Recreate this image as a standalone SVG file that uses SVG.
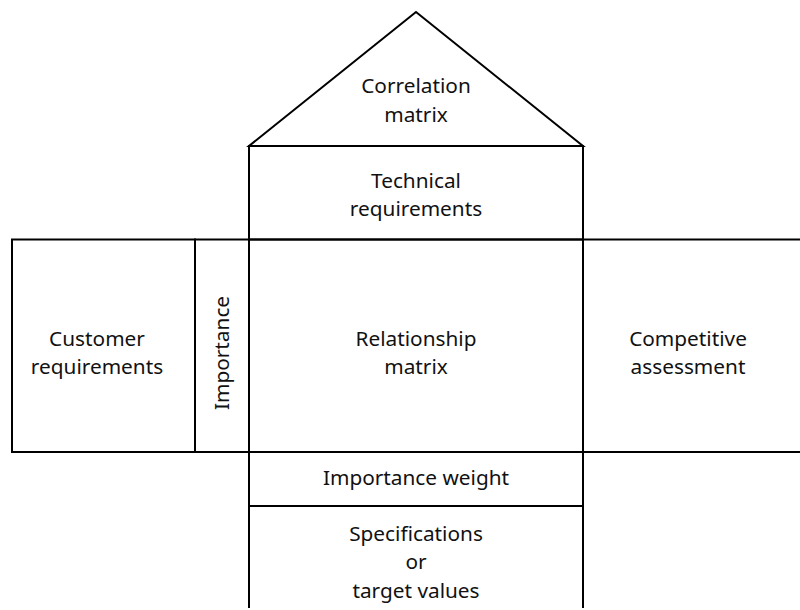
<svg xmlns="http://www.w3.org/2000/svg" width="800" height="610" viewBox="0 0 800 610">
<style>
.s{fill:none;stroke:#000;stroke-width:2}
text{font-family:"Noto Sans","Open Sans",sans-serif;font-size:20.8px;fill:#111;text-anchor:middle}
</style>
<rect width="800" height="610" fill="#fff"/>
<g id="roof"><polygon class="s" points="416,12 249,146 583,146"/><text x="416" y="93">Correlation</text><text x="416" y="122">matrix</text></g>
<g id="technical"><rect class="s" x="249" y="146" width="334" height="93.5"/><text x="416" y="188">Technical</text><text x="416" y="216">requirements</text></g>
<g id="customer"><rect class="s" x="12" y="239.5" width="183" height="212.5"/><text x="97" y="346">Customer</text><text x="97" y="374">requirements</text></g>
<g id="importance"><rect class="s" x="195" y="239.5" width="54" height="212.5"/><text transform="translate(229,353) rotate(-90)" x="0" y="0">Importance</text></g>
<g id="relationship"><rect class="s" x="249" y="239.5" width="334" height="212.5"/><text x="416" y="346">Relationship</text><text x="416" y="374">matrix</text></g>
<g id="competitive"><path class="s" d="M583,239.5 H801 M583,452 H801 M583,239.5 V452"/><text x="688" y="346">Competitive</text><text x="688" y="374">assessment</text></g>
<g id="weight"><rect class="s" x="249" y="452" width="334" height="54"/><text x="416" y="485">Importance weight</text></g>
<g id="specs"><path class="s" d="M249,506 H583 M249,506 V608 M583,506 V608"/><text x="416" y="541">Specifications</text><text x="416" y="569">or</text><text x="416" y="598">target values</text></g>
<g id="connectors"></g>
</svg>
